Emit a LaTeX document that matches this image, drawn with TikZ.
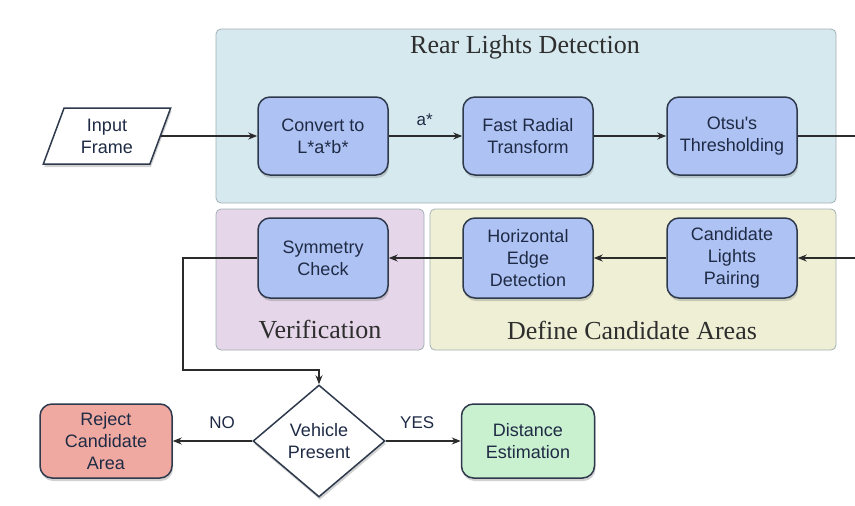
\documentclass[tikz,border=0pt]{standalone}
\usepackage{fontspec}
\setmainfont{Liberation Serif}
\newfontfamily\boxfont{Liberation Sans}
\usetikzlibrary{shapes.geometric,shadows,arrows.meta}

\definecolor{panelblue}{HTML}{D6E9EF}
\definecolor{panelpurple}{HTML}{E6D6E9}
\definecolor{panelyellow}{HTML}{EEEFD4}
\definecolor{panelline}{HTML}{A3B0B4}
\definecolor{stepfill}{HTML}{AEC2F4}
\definecolor{stepline}{HTML}{2E3A4C}
\definecolor{steptext}{HTML}{1F2B45}
\definecolor{rejectfill}{HTML}{EFA9A1}
\definecolor{acceptfill}{HTML}{C9F0CF}
\definecolor{titletext}{HTML}{2E2E2E}
\definecolor{wire}{HTML}{2B2B2B}

\tikzset{
  panel/.style={draw=panelline, line width=0.8pt, rounded corners=5pt},
  paneltitle/.style={font=\fontsize{26}{29}\selectfont, text=titletext},
  stepbox/.style={draw=stepline, line width=1.5pt, fill=stepfill, rounded corners=12pt,
    minimum width=130pt, minimum height=78pt, align=center, text=steptext,
    font=\boxfont\fontsize{18}{22}\selectfont,
    drop shadow={shadow xshift=1pt, shadow yshift=-3pt, opacity=0.35}},
  decision/.style={diamond, draw=stepline, line width=1.5pt, fill=white, inner sep=0pt,
    minimum width=132pt, minimum height=112pt, align=center, text=steptext,
    font=\boxfont\fontsize{18}{22}\selectfont,
    drop shadow={shadow xshift=1pt, shadow yshift=-3pt, opacity=0.35}},
  iobox/.style={trapezium, trapezium left angle=70, trapezium right angle=110,
    trapezium stretches=true, draw=stepline, line width=1.5pt, fill=white, inner sep=0pt,
    minimum width=128pt, minimum height=56pt, align=center, text=steptext,
    font=\boxfont\fontsize{18}{22}\selectfont,
    drop shadow={shadow xshift=1pt, shadow yshift=-3pt, opacity=0.35}},
  flow/.style={draw=wire, line width=1.2pt, -{Stealth[length=9pt,width=7pt]}},
  plainwire/.style={draw=wire, line width=1.2pt},
  flowlabel/.style={font=\boxfont\fontsize{17}{20}\selectfont, text=steptext},
}

\begin{document}
\begin{tikzpicture}[x=1pt, y=-1pt]
  \useasboundingbox (0,0) rectangle (855,506);
  \fill[white] (0,0) rectangle (855,506);

  % group panels
  \draw[panel, fill=panelblue]   (216,29)  rectangle (836,203);
  \draw[panel, fill=panelpurple] (216,209) rectangle (424,350);
  \draw[panel, fill=panelyellow] (430,209) rectangle (836,350);
  \node[paneltitle] (tRear)   at (525,47)  {Rear Lights Detection};
  \node[paneltitle] (tVerif)  at (320,330) {Verification};
  \node[paneltitle] (tDefine) at (632,330) {Define Candidate Areas};

  % processing steps
  \node[iobox]   (input)  at (107,136) {Input\\Frame};
  \node[stepbox] (lab)    at (323,136) {Convert to\\L*a*b*};
  \node[stepbox] (frt)    at (528,136) {Fast Radial\\Transform};
  \node[stepbox] (otsu)   at (732,136) {Otsu's\\Thresholding};
  \node[stepbox, minimum height=80pt] (pair)  at (732,258) {Candidate\\Lights\\Pairing};
  \node[stepbox, minimum height=80pt] (edge)  at (528,258) {Horizontal\\Edge\\Detection};
  \node[stepbox, minimum height=80pt] (sym)   at (323,258) {Symmetry\\Check};
  \node[decision] (veh) at (319,441) {Vehicle\\Present};
  \node[stepbox, fill=rejectfill, minimum width=132pt, minimum height=74pt] (reject) at (106,441) {Reject\\Candidate\\Area};
  \node[stepbox, fill=acceptfill, minimum width=133pt, minimum height=74pt] (dist) at (528,441) {Distance\\Estimation};

  % wire ends at the right border
  \coordinate (outR) at (855,136);
  \coordinate (inR)  at (855,258);
  \coordinate (bendA) at (183,258);
  \coordinate (bendB) at (183,370);
  \coordinate (bendC) at (319,370);

  % connectors
  \draw[flow] (input.east) -- (lab.west);
  \draw[flow] (lab.east) -- node[flowlabel, above=6pt, pos=0.49] (astar) {a*} (frt.west);
  \draw[flow] (frt.east) -- (otsu.west);
  \draw[plainwire] (otsu.east) -- (outR);
  \draw[flow] (inR) -- (pair.east);
  \draw[flow] (pair.west) -- (edge.east);
  \draw[flow] (edge.west) -- (sym.east);
  \draw[flow] (sym.west) -- (bendA) -- (bendB) -- (bendC) -- (veh.north);
  \draw[flow] (veh.west) -- node[flowlabel, above=8pt, pos=0.38] (no) {NO} (reject.east);
  \draw[flow] (veh.east) -- node[flowlabel, above=8pt, pos=0.42] (yes) {YES} (dist.west);
\end{tikzpicture}
\end{document}
